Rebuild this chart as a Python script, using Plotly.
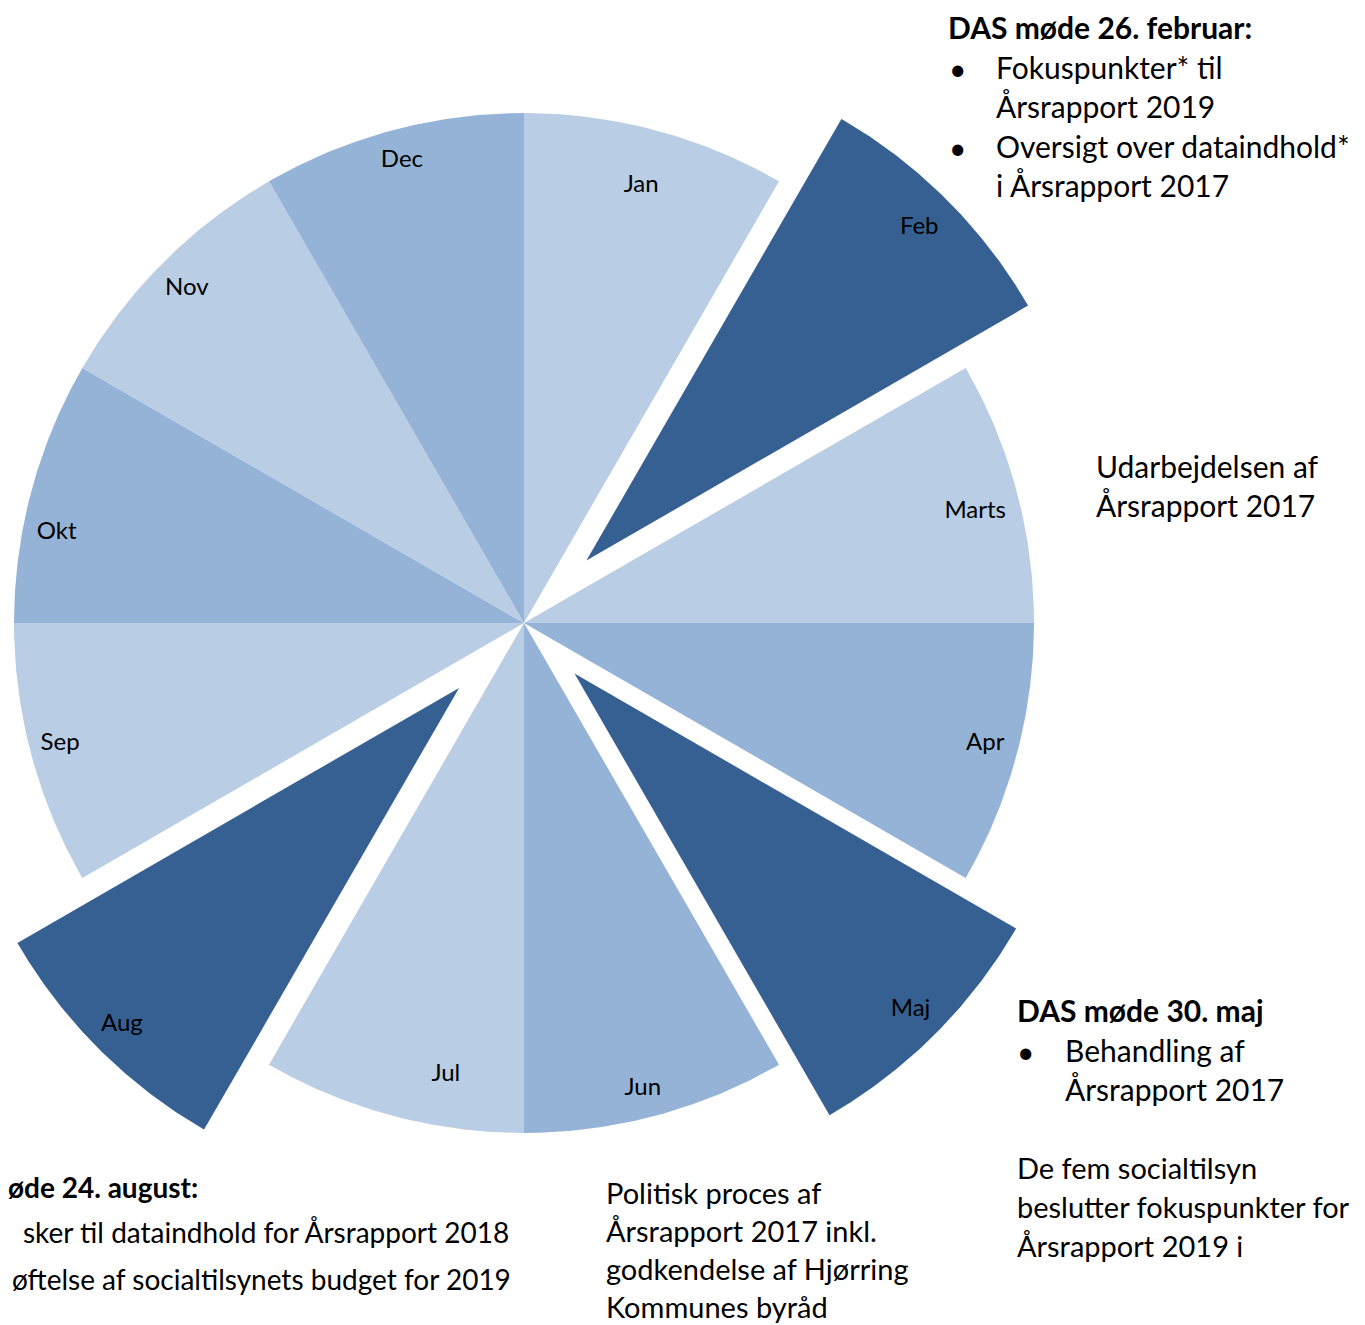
import numpy as np
import plotly.graph_objects as go

# ---------------- data ----------------
months = ["Jan", "Feb", "Marts", "Apr", "Maj", "Jun", "Jul", "Aug", "Sep", "Okt", "Nov", "Dec"]
values = [1, 1, 1, 1, 1, 1, 1, 1, 1, 1, 1, 1]
slice_colors = ["#B9CDE5", "#376092", "#B9CDE5", "#95B3D7", "#376092", "#95B3D7",
                "#B9CDE5", "#376092", "#B9CDE5", "#95B3D7", "#B9CDE5", "#95B3D7"]
pulls = [0, 0.173, 0, 0, 0.14, 0, 0, 0.18, 0, 0, 0, 0]

# label placement style (fraction of radius, angle tweak in degrees)
label_r = [0.888, 0.923, 0.911, 0.935, 0.932, 0.943, 0.90, 0.935, 0.94, 0.933, 0.93, 0.937]
label_da = [0, 0, 1.2, -0.3, 0, 0.7, -5.2, 0, 0.4, -4.1, -0.3, 0.2]

# ---------------- geometry ----------------
OFF = 8                      # browser body margin
W, H = 1365 - OFF, 1325 - OFF
CX, CY, R = 524 - OFF, 623 - OFF, 510
FONT = "Lato, Carlito, Calibri, 'Open Sans', sans-serif"

x_range = [-CX / R, (W - CX) / R]
y_range = [-(H - CY) / R, CY / R]

total = float(sum(values))
cum = np.concatenate([[0.0], np.cumsum(values)]) / total * 360.0

fig = go.Figure()
lab_x, lab_y = [], []
for i, m in enumerate(months):
    a0, a1 = cum[i], cum[i + 1]
    mid = np.radians((a0 + a1) / 2)
    ox, oy = pulls[i] * np.sin(mid), pulls[i] * np.cos(mid)
    t = np.radians(np.linspace(a0, a1, 90))
    xs = np.concatenate([[ox], ox + np.sin(t), [ox]])
    ys = np.concatenate([[oy], oy + np.cos(t), [oy]])
    fig.add_trace(go.Scatter(
        x=xs, y=ys, mode="lines", fill="toself",
        fillcolor=slice_colors[i],
        line=dict(color=slice_colors[i], width=0),
        hoverinfo="text", hovertext=m, showlegend=False,
    ))
    la = mid + np.radians(label_da[i])
    lab_x.append(ox + label_r[i] * np.sin(la))
    lab_y.append(oy + label_r[i] * np.cos(la))

fig.add_trace(go.Scatter(
    x=lab_x, y=lab_y, mode="text", text=months,
    textposition="middle center",
    textfont=dict(family=FONT, size=24, color="#000000"),
    hoverinfo="skip", showlegend=False,
))

# ---------------- text blocks (page pixel positions) ----------------
def px(x):
    return (x - OFF) / W

def py(y):
    return 1 - (y - OFF) / H

annotations = []

def add(text, x, y, size=30, bold=False, anchor="left"):
    annotations.append(dict(
        text=("<b>%s</b>" % text) if bold else text,
        x=px(x), y=py(y), xref="paper", yref="paper",
        xanchor=anchor, yanchor="middle", showarrow=False,
        font=dict(family=FONT, size=size, color="#000000"),
    ))

# DAS møde 26. februar
add("DAS møde 26. februar:", 946, 27, bold=True)
add("•", 947, 68)
add("Fokuspunkter* til", 994, 67)
add("Årsrapport 2019", 994, 106)
add("•", 947, 147)
add("Oversigt over dataindhold*", 994, 146)
add("i Årsrapport 2017", 994, 185)

# Udarbejdelsen
add("Udarbejdelsen af", 1094, 466)
add("Årsrapport 2017", 1094, 505)

# DAS møde 30. maj
add("DAS møde 30. maj", 1015, 1010, bold=True)
add("•", 1015, 1051)
add("Behandling af", 1063, 1050)
add("Årsrapport 2017", 1063, 1089)

# De fem socialtilsyn
add("De fem socialtilsyn", 1015, 1167, size=29)
add("beslutter fokuspunkter for", 1015, 1206, size=29)
add("Årsrapport 2019 i", 1015, 1245, size=29)

# Politisk proces
add("Politisk proces af", 604, 1192, size=29)
add("Årsrapport 2017 inkl.", 604, 1230.5, size=29)
add("godkendelse af Hjørring", 604, 1268.5, size=29)
add("Kommunes byråd", 604, 1306.5, size=29)

# DAS møde 24. august (visible part, cropped in the reference)
add("øde 24. august:", 200, 1187, size=28, bold=True, anchor="right")
add("sker til dataindhold for Årsrapport 2018", 511, 1232, size=28, anchor="right")
add("øftelse af socialtilsynets budget for 2019", 513, 1279, size=28, anchor="right")

fig.update_layout(
    width=W, height=H,
    margin=dict(l=0, r=0, t=0, b=0),
    paper_bgcolor="#FFFFFF", plot_bgcolor="#FFFFFF",
    xaxis=dict(range=x_range, visible=False, fixedrange=True),
    yaxis=dict(range=y_range, visible=False, fixedrange=True),
    annotations=annotations,
    showlegend=False,
)

fig.write_html("out.html")
